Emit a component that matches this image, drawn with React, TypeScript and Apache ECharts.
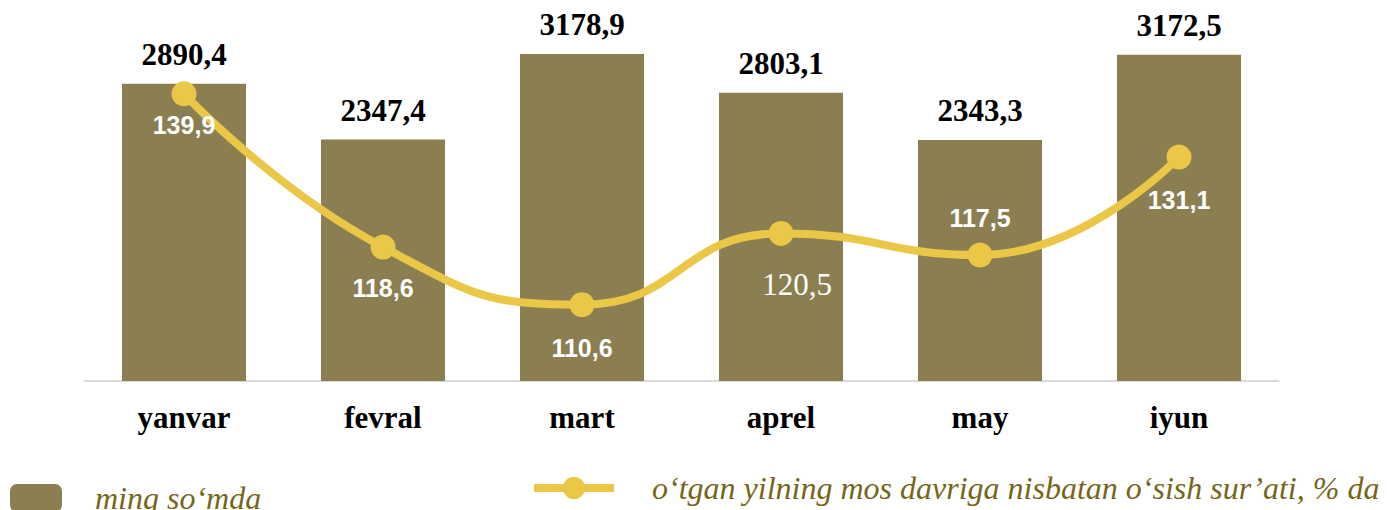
import React, { useEffect, useRef } from 'react';
import * as echarts from 'echarts';

const categories = ['yanvar', 'fevral', 'mart', 'aprel', 'may', 'iyun'];
const amounts = [2890.4, 2347.4, 3178.9, 2803.1, 2343.3, 3172.5];
const growth = [139.9, 118.6, 110.6, 120.5, 117.5, 131.1];
const amountName = 'ming so‘mda';
const growthName = 'o‘tgan yilning mos davriga nisbatan o‘sish sur’ati, % da';

const growthLabelOffsets = [[0, 31], [0, 41], [0, 43], [16, 51], [0, -37], [0, 43]];

const fmt = (v: number) => v.toFixed(1).replace('.', ',');

const BAR = '#8B7F51';
const LINE = '#EAC746';
const LEGEND_TEXT = '#76661A';

export default function App() {
  const ref = useRef<HTMLDivElement>(null);
  useEffect(() => {
    document.body.style.margin = '0';
    const chart = echarts.init(ref.current!, null, { renderer: 'svg' });
    chart.setOption({
      animation: false,
      backgroundColor: '#ffffff',
      grid: { left: 84.5, right: 108.5, top: 21, bottom: 129, containLabel: false },
      legend: [
        {
          data: [{ name: amountName, icon: 'roundRect' }],
          left: 10,
          top: 482,
          padding: 0,
          itemWidth: 52,
          itemHeight: 28,
          selectedMode: false,
          textStyle: {
            fontFamily: 'Liberation Serif',
            fontStyle: 'italic',
            fontSize: 32,
            color: LEGEND_TEXT,
            padding: [0, 0, 5, 28],
          },
        },
        {
          data: [{ name: growthName }],
          left: 530,
          top: 472,
          padding: 0,
          itemWidth: 80,
          itemHeight: 28,
          selectedMode: false,
          lineStyle: { width: 8 },
          textStyle: {
            fontFamily: 'Liberation Serif',
            fontStyle: 'italic',
            fontSize: 32,
            color: LEGEND_TEXT,
            padding: [0, 0, 0, 33],
          },
        },
      ],
      xAxis: {
        type: 'category',
        data: categories,
        axisLine: { show: true, lineStyle: { color: '#D9D9D9', width: 2 } },
        axisTick: { show: false },
        axisLabel: {
          margin: 21,
          fontFamily: 'Liberation Serif',
          fontWeight: 'bold',
          fontSize: 31,
          color: '#000000',
        },
      },
      yAxis: [
        { type: 'value', min: 0, max: 3500, show: false, splitLine: { show: false } },
        { type: 'value', min: 100, max: 150, show: false, splitLine: { show: false } },
      ],
      series: [
        {
          name: amountName,
          type: 'bar',
          data: amounts,
          barWidth: 124,
          itemStyle: { color: BAR },
          label: {
            show: true,
            position: 'top',
            distance: 14,
            formatter: (p: any) => fmt(p.value),
            fontFamily: 'Liberation Serif',
            fontWeight: 'bold',
            fontSize: 31,
            color: '#000000',
          },
          z: 2,
        },
        {
          name: growthName,
          type: 'line',
          yAxisIndex: 1,
          smooth: 0.5,
          data: growth.map((v, i) => {
            const special = i === 3;
            return {
              value: v,
              label: {
                offset: growthLabelOffsets[i],
                ...(special
                  ? { fontFamily: 'Liberation Serif', fontWeight: 'normal', fontSize: 31 }
                  : {}),
              },
            };
          }),
          symbol: 'circle',
          symbolSize: 25,
          lineStyle: { color: LINE, width: 8 },
          itemStyle: { color: LINE },
          label: {
            show: true,
            position: 'inside',
            formatter: (p: any) => fmt(p.value),
            fontFamily: 'Liberation Sans',
            fontWeight: 'bold',
            fontSize: 25,
            color: '#ffffff',
          },
          z: 5,
        },
      ],
    });
    return () => chart.dispose();
  }, []);
  return <div ref={ref} style={{ width: 1387, height: 510, position: 'absolute', left: 0, top: 0 }} />;
}
